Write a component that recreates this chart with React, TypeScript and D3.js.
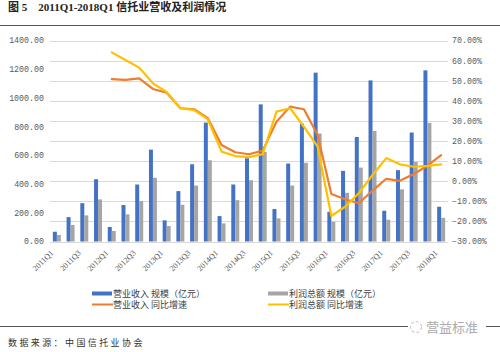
import { useRef, useEffect } from "react";
import * as d3 from "d3";

const quarters = [
  "2011Q1", "2011Q2", "2011Q3", "2011Q4",
  "2012Q1", "2012Q2", "2012Q3", "2012Q4",
  "2013Q1", "2013Q2", "2013Q3", "2013Q4",
  "2014Q1", "2014Q2", "2014Q3", "2014Q4",
  "2015Q1", "2015Q2", "2015Q3", "2015Q4",
  "2016Q1", "2016Q2", "2016Q3", "2016Q4",
  "2017Q1", "2017Q2", "2017Q3", "2017Q4",
  "2018Q1",
];

// 营业收入 规模（亿元）
const revenue = [
  68, 170, 267, 434, 101, 254, 397, 640, 147, 351, 538, 828, 177, 397, 580,
  955, 226, 543, 821, 1176, 207, 492, 728, 1122, 214, 497, 759, 1192, 242,
];
// 利润总额 规模（亿元）
const profit = [
  45, 115, 182, 293, 73, 189, 281, 444, 108, 256, 390, 566, 126, 288, 427,
  624, 161, 390, 548, 752, 138, 339, 515, 770, 152, 363, 555, 826, 165,
];
// 营业收入 同比增速 (%)
const revenueYoY: (number | null)[] = [
  null, null, null, null, 50.8, 50.4, 51.2, 45.9, 44.0, 36.3, 35.8, 31.3, 18.0,
  14.4, 13.4, 15.2, 29.6, 37.1, 35.8, 23.0, -6.4, -9.0, -11.0, -4.7, 1.2, 0.2,
  3.6, 7.7, 13.0,
];
// 利润总额 同比增速 (%)
const profitYoY: (number | null)[] = [
  null, null, null, null, 64.1, 60.3, 56.5, 48.7, 44.4, 36.3, 35.4, 30.8, 14.7,
  12.5, 12.0, 13.5, 34.6, 36.3, 27.1, 17.2, -17.3, -12.7, -6.0, 3.1, 11.5, 8.4,
  7.2, 7.6, 8.4,
];

const leftTicks = [0, 200, 400, 600, 800, 1000, 1200, 1400];
const rightTicks = [-30, -20, -10, 0, 10, 20, 30, 40, 50, 60, 70];

const legendItems = [
  { label: "营业收入 规模（亿元）", color: "#4472C4", kind: "bar" },
  { label: "利润总额 规模（亿元）", color: "#A5A5A5", kind: "bar" },
  { label: "营业收入 同比增速", color: "#ED7D31", kind: "line" },
  { label: "利润总额 同比增速", color: "#FFC000", kind: "line" },
];

const width = 500;
const height = 352;
const plot = { left: 50, right: 448, top: 40.5, bottom: 241.5 };

const cjk = "'Noto Sans CJK SC', sans-serif";
const num = "'Liberation Mono', monospace";

const App = () => {
  const svgRef = useRef<SVGSVGElement>(null);

  useEffect(() => {
    const svg = d3.select(svgRef.current);
    svg.selectAll("*").remove();

    const x = d3
      .scaleBand()
      .domain(quarters)
      .range([plot.left, plot.right])
      .padding(0);

    const sub = d3
      .scaleBand()
      .domain(["revenue", "profit"])
      .range([0, x.bandwidth()])
      .paddingInner(0)
      .paddingOuter(0.72);

    const yL = d3.scaleLinear().domain([0, 1400]).range([plot.bottom, plot.top]);
    const yR = d3.scaleLinear().domain([-30, 70]).range([plot.bottom, plot.top]);

    // title
    svg
      .append("text")
      .attr("x", 8)
      .attr("y", 11)
      .attr("font-family", "'Liberation Serif', 'Noto Sans CJK SC', serif")
      .attr("font-weight", "bold")
      .attr("font-size", 11)
      .attr("fill", "#222")
      .attr("xml:space", "preserve")
      .text("图 5    2011Q1-2018Q1 信托业营收及利润情况");

    svg
      .append("line")
      .attr("x1", 0)
      .attr("x2", width)
      .attr("y1", 25.5)
      .attr("y2", 25.5)
      .attr("stroke", "#555")
      .attr("stroke-width", 1);

    // gridlines
    svg
      .append("g")
      .selectAll("line")
      .data(rightTicks)
      .join("line")
      .attr("x1", plot.left)
      .attr("x2", plot.right)
      .attr("y1", (d) => Math.round(yR(d)) + 0.5)
      .attr("y2", (d) => Math.round(yR(d)) + 0.5)
      .attr("stroke", "#D9D9D9")
      .attr("stroke-width", 1);

    // left axis labels
    svg
      .append("g")
      .selectAll("text")
      .data(leftTicks)
      .join("text")
      .attr("x", 44)
      .attr("y", (d) => yL(d))
      .attr("dy", "0.35em")
      .attr("text-anchor", "end")
      .attr("font-family", num)
      .attr("font-size", 8.3)
      .attr("fill", "#595959")
      .text((d) => d3.format(".2f")(d));

    // right axis labels
    svg
      .append("g")
      .selectAll("text")
      .data(rightTicks)
      .join("text")
      .attr("x", 452)
      .attr("y", (d) => yR(d))
      .attr("dy", "0.35em")
      .attr("font-family", num)
      .attr("font-size", 8.3)
      .attr("fill", "#595959")
      .text((d) => d3.format(".2f")(d) + "%");

    // bars
    const bars = svg.append("g");
    bars
      .selectAll("rect.rev")
      .data(revenue)
      .join("rect")
      .attr("class", "rev")
      .attr("x", (_, i) => x(quarters[i])! + sub("revenue")!)
      .attr("width", sub.bandwidth())
      .attr("y", (d) => yL(d))
      .attr("height", (d) => yL(0) - yL(d))
      .attr("fill", "#4472C4");
    bars
      .selectAll("rect.pro")
      .data(profit)
      .join("rect")
      .attr("class", "pro")
      .attr("x", (_, i) => x(quarters[i])! + sub("profit")!)
      .attr("width", sub.bandwidth())
      .attr("y", (d) => yL(d))
      .attr("height", (d) => yL(0) - yL(d))
      .attr("fill", "#A5A5A5");

    // lines
    const line = d3
      .line<number | null>()
      .defined((d) => d !== null)
      .x((_, i) => x(quarters[i])! + x.bandwidth() / 2)
      .y((d) => yR(d as number));

    [
      { data: revenueYoY, color: "#ED7D31" },
      { data: profitYoY, color: "#FFC000" },
    ].forEach((s) => {
      svg
        .append("path")
        .datum(s.data)
        .attr("d", line)
        .attr("fill", "none")
        .attr("stroke", s.color)
        .attr("stroke-width", 2.2)
        .attr("stroke-linejoin", "round")
        .attr("stroke-linecap", "round");
    });

    // x labels, every other quarter
    svg
      .append("g")
      .selectAll("text")
      .data(quarters.filter((_, i) => i % 2 === 0))
      .join("text")
      .attr(
        "transform",
        (d) => `translate(${x(d)! + x.bandwidth() / 2 - 3},${plot.bottom + 12}) rotate(-45)`
      )
      .attr("text-anchor", "end")
      .attr("font-family", "'Liberation Serif', serif")
      .attr("font-size", 8)
      .attr("fill", "#595959")
      .text((d) => d);

    // legend
    const legend = svg.append("g");
    legendItems.forEach((item, i) => {
      const lx = i % 2 === 0 ? 92 : 268;
      const ly = i < 2 ? 293.5 : 304.5;
      if (item.kind === "bar") {
        legend
          .append("rect")
          .attr("x", lx)
          .attr("y", ly - 2)
          .attr("width", 20)
          .attr("height", 4)
          .attr("fill", item.color);
      } else {
        legend
          .append("line")
          .attr("x1", lx)
          .attr("x2", lx + 21)
          .attr("y1", ly)
          .attr("y2", ly)
          .attr("stroke", item.color)
          .attr("stroke-width", 2);
      }
      legend
        .append("text")
        .attr("x", lx + 21)
        .attr("y", ly)
        .attr("dy", "0.35em")
        .attr("font-family", cjk)
        .attr("font-size", 9)
        .attr("fill", "#404040")
        .text(item.label);
    });

    // bottom rule + source
    svg
      .append("line")
      .attr("x1", 0)
      .attr("x2", width)
      .attr("y1", 326.5)
      .attr("y2", 326.5)
      .attr("stroke", "#555")
      .attr("stroke-width", 1);

    svg
      .append("text")
      .attr("x", 8)
      .attr("y", 346)
      .attr("font-family", cjk)
      .attr("font-size", 9)
      .attr("letter-spacing", 2.4)
      .attr("fill", "#333")
      .text("数据来源：中国信托业协会");

    // watermark
    const wm = svg.append("g");
    wm.append("rect")
      .attr("x", 408)
      .attr("y", 319)
      .attr("width", 78)
      .attr("height", 15)
      .attr("fill", "#fff");
    wm.append("circle")
      .attr("cx", 416)
      .attr("cy", 327)
      .attr("r", 5.5)
      .attr("fill", "none")
      .attr("stroke", "#ccc")
      .attr("stroke-width", 1.2)
      .attr("stroke-dasharray", "3 2");
    wm.append("text")
      .attr("x", 426)
      .attr("y", 327)
      .attr("dy", "0.35em")
      .attr("font-family", cjk)
      .attr("font-size", 13)
      .attr("fill", "#aaa")
      .text("营益标准");
  }, []);

  return (
    <svg
      ref={svgRef}
      width={width}
      height={height}
      style={{ position: "absolute", left: 0, top: 0, background: "#fff" }}
    />
  );
};

export default App;
